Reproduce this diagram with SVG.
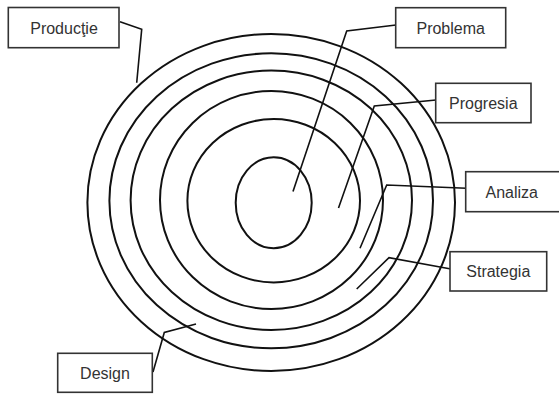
<svg xmlns="http://www.w3.org/2000/svg" width="559" height="394" viewBox="0 0 559 394">
<style>
.ring{fill:none;stroke:#111;stroke-width:2}
.box{fill:#fff;stroke:#333;stroke-width:1.6}
.lbl{font-family:"Liberation Sans",Arial,sans-serif;font-size:16px;fill:#333;text-anchor:middle;dominant-baseline:central}
.con{fill:none;stroke:#111;stroke-width:1.6;stroke-linejoin:miter}
</style>
<rect width="559" height="394" fill="#fff"/>
<g id="rings">
<ellipse class="ring" cx="271.2" cy="202.5" rx="183.8" ry="168.5"/>
<ellipse class="ring" cx="271.2" cy="200.8" rx="161.8" ry="147.5"/>
<ellipse class="ring" cx="271.3" cy="200.3" rx="140.7" ry="129.7"/>
<ellipse class="ring" cx="271.5" cy="200" rx="111.5" ry="109"/>
<ellipse class="ring" cx="273.7" cy="200.7" rx="86.3" ry="81.7"/>
<ellipse class="ring" cx="273.7" cy="202.8" rx="38" ry="45.5"/>
</g>
<g id="connectors">
<polyline class="con" points="120,21.7 141.7,29.3 136.7,82.7"/>
<polyline class="con" points="396,25 346.7,31 293,191.5"/>
<polyline class="con" points="436,100 374.3,106 338.5,208"/>
<polyline class="con" points="466.5,188.3 386.7,185 360,248.3"/>
<polyline class="con" points="451,269 389,257.7 356.7,289"/>
<polyline class="con" points="153,372 164.3,332.5 196,324"/>
</g>
<g id="productie">
<rect class="box" x="8.3" y="7.5" width="110.7" height="40.2"/>
<text class="lbl" x="64" y="28">Producţie</text>
</g>
<g id="problema">
<rect class="box" x="395.7" y="7.7" width="110" height="40"/>
<text class="lbl" x="450.7" y="28">Problema</text>
</g>
<g id="progresia">
<rect class="box" x="435.7" y="83.3" width="95.3" height="39.4"/>
<text class="lbl" x="483.3" y="103">Progresia</text>
</g>
<g id="analiza">
<rect class="box" x="465.7" y="171.7" width="100" height="40"/>
<text class="lbl" x="511.7" y="192">Analiza</text>
</g>
<g id="strategia">
<rect class="box" x="450" y="251.7" width="96.7" height="39.3"/>
<text class="lbl" x="498.3" y="271.5">Strategia</text>
</g>
<g id="design">
<rect class="box" x="57.7" y="353.3" width="94.6" height="39"/>
<text class="lbl" x="105" y="373">Design</text>
</g>
</svg>
